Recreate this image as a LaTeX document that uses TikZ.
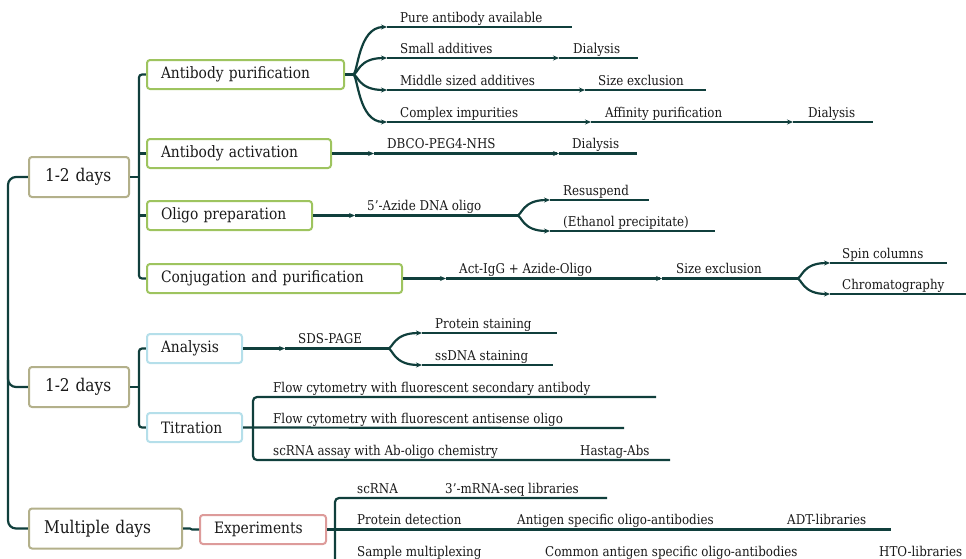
\documentclass[tikz,border=0pt]{standalone}
\usepackage{fontspec}
\setmainfont{DejaVu Serif}[FakeStretch=0.88]
\usetikzlibrary{arrows.meta,calc}
\definecolor{lncol}{HTML}{103F3C}
\definecolor{txtcol}{HTML}{1A1A1A}
\definecolor{olivecol}{HTML}{B3B08A}
\definecolor{greencol}{HTML}{9EC45F}
\definecolor{bluecol}{HTML}{B5DFEA}
\definecolor{pinkcol}{HTML}{DD9B9A}
\newcommand\segfont{\fontsize{13.5}{15}\selectfont}
\newcommand\boxfont{\fontsize{15.7}{17}\selectfont}
\newcommand\dayfont{\fontsize{17.5}{19}\selectfont}
\newcommand\seg[6]{%
  \coordinate (#1-s) at (#2,#4);
  \coordinate (#1-e) at (#3,#4);
  \draw[wire] (#1-s) -- (#1-e);
  \node[lbl] (#1) at (#5,#4-5) {#6};}
\newcommand\fan[2]{%
  \draw[arrw] (#1) .. controls ($(#1)+(5,0)$) and ($(#1 |- #2)+(5,0)$) .. (#2);}
\begin{document}
\begin{tikzpicture}[x=1pt,y=-1pt,
  wire/.style={draw=lncol, line width=2.2pt},
  arrw/.style={wire, -{Stealth[length=6pt,width=5pt]}},
  lbl/.style={anchor=base west, inner sep=0pt, font=\segfont, text=txtcol},
  boxbase/.style={draw, line width=2pt, rounded corners=3pt, fill=white,
    inner xsep=14pt, inner ysep=0pt, minimum height=29pt, anchor=west,
    font=\boxfont, text=txtcol, align=left},
  dayb/.style={boxbase, draw=olivecol, minimum height=40pt, font=\dayfont, inner xsep=16pt},
  gbox/.style={boxbase, draw=greencol},
  bbox/.style={boxbase, draw=bluecol},
  pbox/.style={boxbase, draw=pinkcol}]
\useasboundingbox (0,0) rectangle (966,558);
\clip (0,0) rectangle (966,558);

% root connections
\draw[wire, rounded corners=8pt] (28,177) -- (8,177) -- (8,528.5) -- (28,528.5);
\draw[wire, rounded corners=8pt] (8,360) -- (8,387) -- (28,387);

% level-1 boxes
\node[dayb, text width=68pt] (d1) at (28,177) {1-2 days};
\node[dayb, text width=68pt] (d2) at (28,387) {1-2 days};
\node[dayb, text width=123pt, inner xsep=15pt] (md) at (28,528.5) {Multiple days};

% first group
\coordinate (d1j) at (139,177);
\draw[wire] (d1.east) -- (d1j);
\draw[wire, rounded corners=3pt] (146,74.5) -- (139,74.5) -- (139,278.5) -- (146,278.5);
\draw[wire] (139,153.5) -- (146,153.5);
\draw[wire] (139,215.5) -- (146,215.5);
\node[gbox, text width=169pt] (ap) at (146,74.5) {Antibody purification};
\node[gbox, text width=156pt] (aa) at (146,153.5) {Antibody activation};
\node[gbox, text width=137pt] (op) at (146,215.5) {Oligo preparation};
\node[gbox, text width=227pt] (cp) at (146,278.5) {Conjugation and purification};

% antibody purification
\coordinate (apj) at (353,74.5);
\draw[wire] (ap.east) -- (apj);
\seg{pa}{387}{572}{27}{400}{Pure antibody available}
\seg{sa}{387}{557}{58}{400}{Small additives}
\seg{sadi}{559}{638}{58}{573}{Dialysis}
\seg{ms}{387}{583}{90}{400}{Middle sized additives}
\seg{msx}{585}{706}{90}{598}{Size exclusion}
\seg{ci}{387}{589}{122}{400}{Complex impurities}
\seg{af}{591}{791}{122}{605}{Affinity purification}
\seg{afdi}{793}{873}{122}{808}{Dialysis}
\fan{apj}{pa-s}
\fan{apj}{sa-s}
\fan{apj}{ms-s}
\fan{apj}{ci-s}
\draw[arrw] (sa-e) -- (sadi-s);
\draw[arrw] (ms-e) -- (msx-s);
\draw[arrw] (ci-e) -- (af-s);
\draw[arrw] (af-e) -- (afdi-s);

% antibody activation
\seg{db}{374}{557}{153.5}{387}{DBCO-PEG4-NHS}
\seg{dbdi}{559}{637}{153.5}{572}{Dialysis}
\draw[arrw] (aa.east) -- (db-s);
\draw[arrw] (db-e) -- (dbdi-s);

% oligo preparation
\seg{az}{355}{517}{215.5}{367}{5'-Azide DNA oligo}
\seg{rs}{550}{649}{200}{563}{Resuspend}
\seg{et}{550}{715}{231}{563}{(Ethanol precipitate)}
\draw[arrw] (op.east) -- (az-s);
\fan{az-e}{rs-s}
\fan{az-e}{et-s}

% conjugation
\seg{ag}{446}{660}{278.5}{459}{Act-IgG + Azide-Oligo}
\seg{sx}{662}{797}{278.5}{676}{Size exclusion}
\seg{sc}{830}{947}{263}{842}{Spin columns}
\seg{chr}{830}{966}{294}{842}{Chromatography}
\draw[arrw] (cp.east) -- (ag-s);
\draw[arrw] (ag-e) -- (sx-s);
\fan{sx-e}{sc-s}
\fan{sx-e}{chr-s}

% second group
\coordinate (d2j) at (139,387);
\draw[wire] (d2.east) -- (d2j);
\draw[wire, rounded corners=3pt] (146,348.5) -- (139,348.5) -- (139,427.5) -- (146,427.5);
\node[bbox, text width=67pt] (an) at (146,348.5) {Analysis};
\node[bbox, text width=67pt] (ti) at (146,427.5) {Titration};

\seg{sd}{285}{388}{348.5}{298}{SDS-PAGE}
\seg{ps}{422}{557}{333}{435}{Protein staining}
\seg{ss}{422}{553}{365}{435}{ssDNA staining}
\draw[arrw] (an.east) -- (sd-s);
\fan{sd-e}{ps-s}
\fan{sd-e}{ss-s}

\coordinate (fc1-e) at (656,397);
\coordinate (fc2-e) at (624,428);
\coordinate (ha-e) at (670,460);
\node[lbl] (fc1) at (273,392) {Flow cytometry with fluorescent secondary antibody};
\node[lbl] (fc2) at (273,423) {Flow cytometry with fluorescent antisense oligo};
\node[lbl] (sca) at (273,455) {scRNA assay with Ab-oligo chemistry};
\node[lbl] (ha) at (580,455) {Hastag-Abs};
\draw[wire, rounded corners=4pt] (fc1-e) -- (253,397) -- (253,460) -- (ha-e);
\draw[wire] (ti.east) -- (fc2-e);

% third group
\node[pbox, text width=98pt] (ex) at (199,529.5) {Experiments};
\draw[wire] (md.east) -- (190,528.5) -- (192,529.5) -- (ex.west);
\coordinate (sr-e) at (607,498);
\coordinate (pd-e) at (891,529.5);
\coordinate (bot) at (335,575);
\draw[wire, rounded corners=4pt] (sr-e) -- (335,498) -- (bot);
\draw[wire] (ex.east) -- (pd-e);
\node[lbl] (sr) at (357,493) {scRNA};
\node[lbl] (ml) at (445,493) {3'-mRNA-seq libraries};
\node[lbl] (pd) at (357,524.5) {Protein detection};
\node[lbl] (asa) at (517,524.5) {Antigen specific oligo-antibodies};
\node[lbl] (adt) at (787,524.5) {ADT-libraries};
\node[lbl] (sm) at (357,556) {Sample multiplexing};
\node[lbl] (cas) at (545,556) {Common antigen specific oligo-antibodies};
\node[lbl] (hto) at (879,556) {HTO-libraries};
\end{tikzpicture}
\end{document}
